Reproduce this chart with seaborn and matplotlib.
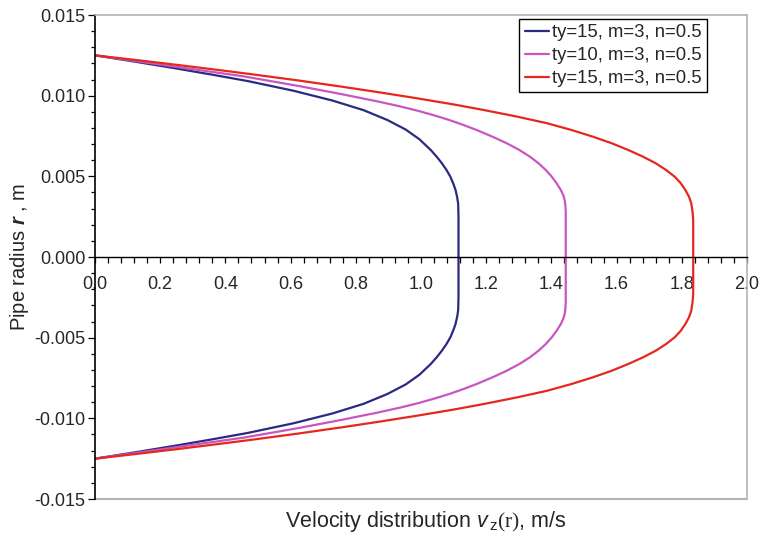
import numpy as np
import pandas as pd
import seaborn as sns
import matplotlib
matplotlib.use("Agg")
import matplotlib.pyplot as plt
from matplotlib.ticker import MultipleLocator, FormatStrFormatter

# ---- data (upper half of each profile, r in mm, v in m/s) ----
labels = ["ty=15, m=3, n=0.5", "ty=10, m=3, n=0.5", "ty=15, m=3, n=0.5"]
colors = ["#2a2a80", "#c955c0", "#e5281f"]

r_blue = [0.0, 2.5, 3.3, 3.7, 4.15, 4.55, 4.98, 5.4, 5.81, 6.22, 6.63, 7.3, 7.9,
          8.49, 9.1, 9.7, 10.3, 10.9, 11.3, 11.7, 12.1, 12.5]
v_blue = [1.115, 1.115, 1.114, 1.111, 1.106, 1.099, 1.090, 1.078, 1.064, 1.048, 1.030,
          0.995, 0.953, 0.897, 0.824, 0.728, 0.610, 0.470, 0.360, 0.245, 0.125, 0.0]

r_pink = [0.0, 2.8, 3.2, 3.5, 3.8, 4.15, 4.57, 4.98, 5.39, 5.8, 6.22, 6.63, 7.05,
          7.46, 7.87, 8.2, 8.49, 8.77, 9.05, 9.34, 9.63, 10.1, 10.6, 11.2, 11.8,
          12.1, 12.5]
v_pink = [1.444, 1.444, 1.443, 1.441, 1.437, 1.429, 1.416, 1.401, 1.383, 1.361, 1.334,
          1.302, 1.263, 1.219, 1.171, 1.128, 1.087, 1.042, 0.993, 0.935, 0.870, 0.755,
          0.625, 0.455, 0.245, 0.140, 0.0]

r_red = [0.0, 2.29, 2.8, 3.33, 3.74, 4.15, 4.57, 4.98, 5.39, 5.81, 6.22, 6.63, 7.05,
         7.46, 7.87, 8.29, 8.7, 9.11, 9.45, 9.84, 10.21, 10.56, 10.95, 11.33, 11.6,
         11.9, 12.2, 12.5]
v_red = [1.835, 1.835, 1.833, 1.829, 1.822, 1.811, 1.797, 1.778, 1.752, 1.720, 1.681,
         1.636, 1.585, 1.527, 1.462, 1.387, 1.295, 1.193, 1.102, 0.987, 0.871, 0.756,
         0.621, 0.480, 0.375, 0.255, 0.130, 0.0]

x_ticks = [0.0, 0.2, 0.4, 0.6, 0.8, 1.0, 1.2, 1.4, 1.6, 1.8, 2.0]
y_ticks = [-0.015, -0.010, -0.005, 0.000, 0.005, 0.010, 0.015]


def full_profile(r_up_mm, v_up):
    r_up = np.asarray(r_up_mm) / 1000.0
    v_up = np.asarray(v_up)
    r = np.concatenate([-r_up[::-1], r_up[1:]])
    v = np.concatenate([v_up[::-1], v_up[1:]])
    return pd.DataFrame({"v": v, "r": r})


sns.set_theme(style="white")
plt.rcParams["font.family"] = ["Liberation Sans", "DejaVu Sans"]
plt.rcParams["mathtext.fontset"] = "custom"
plt.rcParams["mathtext.rm"] = "Liberation Serif"
plt.rcParams["mathtext.it"] = "Liberation Sans:italic"
plt.rcParams["mathtext.sf"] = "Liberation Sans"
plt.rcParams["mathtext.bf"] = "Liberation Sans:bold"
try:
    plt.rcParams["mathtext.bfit"] = "Liberation Sans:bold:italic"
    has_bfit = True
except Exception:
    has_bfit = False

fig = plt.figure(figsize=(7.62, 5.34), dpi=100)
ax = fig.add_axes([95 / 762, 1 - 499 / 534, 652 / 762, 484 / 534])

for rr, vv, lab, col in zip([r_blue, r_pink, r_red], [v_blue, v_pink, v_red], labels, colors):
    df = full_profile(rr, vv)
    sns.lineplot(data=df, x="v", y="r", sort=False, estimator=None, color=col,
                 linewidth=1.6, label=lab, ax=ax)

ax.set_xlim(0, 2.0)
ax.set_ylim(-0.015, 0.015)

# axis styling
ax.spines["bottom"].set_position(("data", 0))
ax.spines["bottom"].set_color("black")
ax.spines["bottom"].set_linewidth(1.0)
ax.spines["left"].set_color("black")
ax.spines["left"].set_linewidth(1.2)
for s in ["top", "right"]:
    ax.spines[s].set_color("#b4b4b4")
    ax.spines[s].set_linewidth(1.2)
ax.axhline(-0.015, color="#b4b4b4", linewidth=1.5, clip_on=False, zorder=0)

ax.set_xticks(x_ticks)
ax.set_yticks(y_ticks)
ax.xaxis.set_major_formatter(FormatStrFormatter("%.1f"))
ax.yaxis.set_major_formatter(FormatStrFormatter("%.3f"))
ax.xaxis.set_minor_locator(MultipleLocator(0.04))
ax.yaxis.set_minor_locator(MultipleLocator(0.001))
ax.tick_params(axis="x", which="both", direction="out", bottom=True, top=False,
               length=4.5, width=0.9, color="black", pad=9, labelsize=13)
ax.tick_params(axis="y", which="major", direction="out", left=True, right=False,
               length=5, width=0.9, color="black", pad=2, labelsize=13)
ax.tick_params(axis="y", which="minor", direction="out", left=True, right=False,
               length=3, width=0.9, color="black")

if has_bfit:
    ylab = r"Pipe radius $\mathbfit{r}$ , m"
else:
    ylab = r"Pipe radius $\mathbf{r}$ , m"
ax.set_ylabel(ylab, fontsize=14.5)
ax.yaxis.set_label_coords(-0.098, 0.5)
ax.set_xlabel(r"Velocity distribution $\mathit{v}_{\,\mathsf{z}}\mathrm{(r)}$, m/s", fontsize=15.5)
ax.xaxis.set_label_coords(0.508, -0.02)

leg = ax.legend(loc="upper right", bbox_to_anchor=(0.9387, 0.9917), fontsize=13.3,
                frameon=True, fancybox=False, framealpha=1, edgecolor="black",
                handlelength=1.3, handletextpad=0.2, labelspacing=0.32,
                borderpad=0.28, borderaxespad=0.0)
leg.get_frame().set_linewidth(1.0)

fig.savefig("out.png", dpi=100)
